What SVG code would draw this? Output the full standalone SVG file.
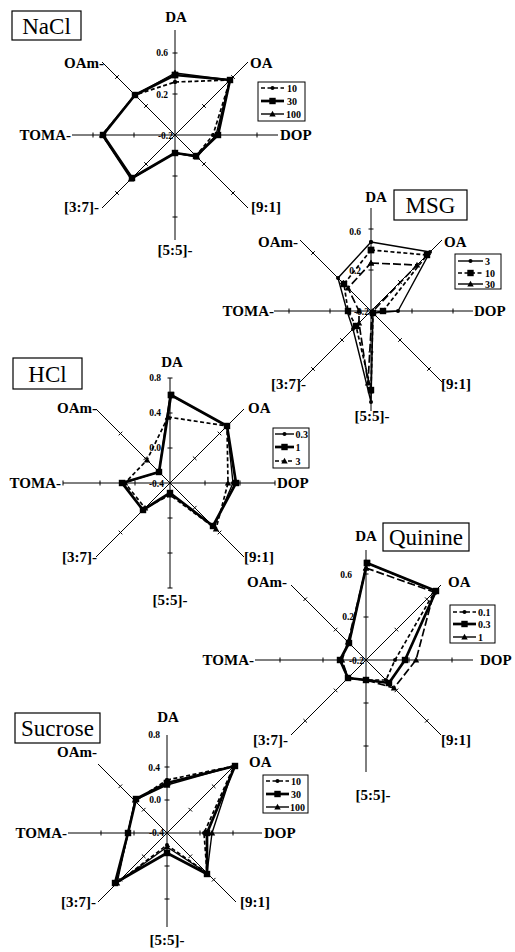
<svg xmlns="http://www.w3.org/2000/svg" xmlns:xlink="http://www.w3.org/1999/xlink" width="515" height="952" viewBox="0 0 515 952">
<style>
.ax{stroke:#000;stroke-width:1;fill:none}
.lb{font-family:"Liberation Serif",serif;font-weight:bold;font-size:15px;fill:#000}
.tv{font-family:"Liberation Serif",serif;font-weight:bold;font-size:9.5px;fill:#000}
.lg{font-family:"Liberation Serif",serif;font-weight:bold;font-size:10px;fill:#000}
.tt{font-family:"Liberation Serif",serif;font-size:23px;fill:#000}
.box{fill:#fff;stroke:#000;stroke-width:1.2}
.thin{fill:none;stroke:#000;stroke-width:1.4;stroke-linejoin:round}
.thick{fill:none;stroke:#000;stroke-width:2.7;stroke-linejoin:round}
.dash{fill:none;stroke:#000;stroke-width:1.7;stroke-dasharray:4 2.5}
.ldash{fill:none;stroke:#000;stroke-width:1.7;stroke-dasharray:8 3}
.mc{marker-start:url(#mc);marker-mid:url(#mc);marker-end:url(#mc)}
.ms{marker-start:url(#ms);marker-mid:url(#ms);marker-end:url(#ms)}
.mt{marker-start:url(#mt);marker-mid:url(#mt);marker-end:url(#mt)}
</style>
<defs>
<circle id="pc" r="2"/>
<rect id="ps" x="-3.2" y="-3.2" width="6.4" height="6.4"/>
<path id="pt" d="M0,-3.2 L3.2,2.4 L-3.2,2.4 Z"/>
<marker id="mc" viewBox="-4 -4 8 8" refX="0" refY="0" markerWidth="8" markerHeight="8" markerUnits="userSpaceOnUse"><use href="#pc"/></marker>
<marker id="ms" viewBox="-4 -4 8 8" refX="0" refY="0" markerWidth="8" markerHeight="8" markerUnits="userSpaceOnUse"><use href="#ps"/></marker>
<marker id="mt" viewBox="-4 -4 8 8" refX="0" refY="0" markerWidth="8" markerHeight="8" markerUnits="userSpaceOnUse"><use href="#pt"/></marker>
</defs>
<rect width="515" height="952" fill="#fff"/>

<!-- NaCl -->
<g id="chart-nacl">
 <g transform="translate(175,135)">
  <path class="ax" d="M0,-105V105M-103,0H103M-73,-73L73,73M73,-73L-73,73"/>
  <path class="ax" d="M-2.5,-41h5M-2.5,-82h5M-2.5,41h5M-2.5,82h5M-41,-2.5v5M-82,-2.5v5M41,-2.5v5M82,-2.5v5M27.2,-30.8l3.6,3.6M56.2,-59.8l3.6,3.6M-30.8,27.2l3.6,3.6M-59.8,56.2l3.6,3.6M27.2,30.8l3.6,-3.6M56.2,59.8l3.6,-3.6M-30.8,-27.2l3.6,-3.6M-59.8,-56.2l3.6,-3.6"/>
  <polygon class="dash mc" points="0,-53 55,-55 38,0 21,21 0,18 -43,43 -73,0 -40,-40"/>
  <polygon class="thick ms" points="0,-60 55,-55 43,0 21,21 0,18 -43,43 -72,0 -40,-40"/>
  <polygon class="thin mt" points="0,-62 55,-55 41,0 22,22 0,18 -44,44 -73,0 -40,-40"/>
 </g>
 <text class="lb" x="176" y="22" text-anchor="middle">DA</text>
 <text class="lb" x="250" y="68">OA</text>
 <text class="lb" x="280" y="140">DOP</text>
 <text class="lb" x="251" y="212">[9:1]</text>
 <text class="lb" x="175" y="255" text-anchor="middle">[5:5]-</text>
 <text class="lb" x="99" y="212" text-anchor="end">[3:7]-</text>
 <text class="lb" x="71" y="140" text-anchor="end">TOMA-</text>
 <text class="lb" x="104" y="68" text-anchor="end">OAm-</text>
 <text class="tv" x="168" y="56" text-anchor="end">0.6</text>
 <text class="tv" x="168" y="98" text-anchor="end">0.2</text>
 <text class="tv" x="173" y="139" text-anchor="end">-0.2</text>
 <g id="legend-nacl">
  <rect x="258" y="82" width="47" height="39" fill="#fff" stroke="#000" stroke-width="1"/>
  <path class="dash" d="M261,88H284"/><use href="#pc" x="272.5" y="88"/><text class="lg" x="287" y="91.5">10</text>
  <path class="thick" d="M261,101H284"/><use href="#ps" x="272.5" y="101"/><text class="lg" x="287" y="104.5">30</text>
  <path class="thin" d="M261,114H284"/><use href="#pt" x="272.5" y="114"/><text class="lg" x="286" y="117.5">100</text>
 </g>
 <g id="title-nacl"><rect class="box" x="12" y="11" width="69" height="29"/><text class="tt" x="46.5" y="34" text-anchor="middle">NaCl</text></g>
</g>

<!-- MSG -->
<g id="chart-msg">
 <g transform="translate(371,311)">
  <path class="ax" d="M0,-103V100M-97,0H102M-71,-71L71,71M71,-71L-71,71"/>
  <path class="ax" d="M-2.5,-41h5M-2.5,-82h5M-2.5,41h5M-2.5,82h5M-41,-2.5v5M-82,-2.5v5M41,-2.5v5M82,-2.5v5M27.2,-30.8l3.6,3.6M56.2,-59.8l3.6,3.6M-30.8,27.2l3.6,3.6M-59.8,56.2l3.6,3.6M27.2,30.8l3.6,-3.6M56.2,59.8l3.6,-3.6M-30.8,-27.2l3.6,-3.6M-59.8,-56.2l3.6,-3.6"/>
  <polygon class="thin mc" points="0,-69 59,-59 27,0 2,2 0,91 -18,18 -24,0 -33,-33"/>
  <polygon class="dash ms" points="0,-61 56,-56 12,0 2,2 0,79 -15,15 -23,0 -27,-27"/>
  <polygon class="ldash mt" points="0,-48 46,-46 2,0 1,1 -3,72 -12,12 -12,0 -23,-23"/>
 </g>
 <text class="lb" x="376" y="202" text-anchor="middle">DA</text>
 <text class="lb" x="444" y="247">OA</text>
 <text class="lb" x="474" y="316">DOP</text>
 <text class="lb" x="441" y="389">[9:1]</text>
 <text class="lb" x="372" y="421" text-anchor="middle">[5:5]-</text>
 <text class="lb" x="306" y="389" text-anchor="end">[3:7]-</text>
 <text class="lb" x="274" y="316" text-anchor="end">TOMA-</text>
 <text class="lb" x="298" y="247" text-anchor="end">OAm-</text>
 <text class="tv" x="361" y="235" text-anchor="end">0.6</text>
 <text class="tv" x="361" y="274" text-anchor="end">0.2</text>
 <text class="tv" x="369" y="315" text-anchor="end">-0.2</text>
 <g id="legend-msg">
  <rect x="455" y="254" width="46" height="35" fill="#fff" stroke="#000" stroke-width="1"/>
  <path class="thin" d="M458,261H483"/><use href="#pc" x="470.5" y="261"/><text class="lg" x="485" y="264.5">3</text>
  <path class="dash" d="M458,273H483"/><use href="#ps" x="470.5" y="273"/><text class="lg" x="485" y="276.5">10</text>
  <path class="thin" d="M458,284H483"/><use href="#pt" x="470.5" y="284"/><text class="lg" x="485" y="287.5">30</text>
 </g>
 <g id="title-msg"><rect class="box" x="394" y="190" width="73" height="30"/><text class="tt" x="430.5" y="213" text-anchor="middle">MSG</text></g>
</g>

<!-- HCl -->
<g id="chart-hcl">
 <g transform="translate(170,483)">
  <path class="ax" d="M0,-105V105M-107,0H105M-74,-74L74,74M74,-74L-74,74"/>
  <path class="ax" d="M-2.5,-35h5M-2.5,-70h5M-2.5,35h5M-2.5,70h5M-35,-2.5v5M-70,-2.5v5M35,-2.5v5M70,-2.5v5M22.9,-26.5l3.6,3.6M47.7,-51.3l3.6,3.6M-26.5,22.9l3.6,3.6M-51.3,47.7l3.6,3.6M22.9,26.5l3.6,-3.6M47.7,51.3l3.6,-3.6M-26.5,-22.9l3.6,-3.6M-51.3,-47.7l3.6,-3.6M-2.5,-105h5M-2.5,105h5M-107,-2.5v5M105,-2.5v5"/>
  <polygon class="thin mc" points="0,-88 57,-57 63,0 44,44 0,10 -27,27 -47,0 -11,-11"/>
  <polygon class="thick ms" points="1,-88 57,-57 66,0 43,43 0,10 -27,27 -48,0 -11,-11"/>
  <polygon class="dash mt" points="-2,-66 57,-57 58,0 46,46 0,12 -25,25 -45,0 -23,-23"/>
 </g>
 <text class="lb" x="172" y="367" text-anchor="middle">DA</text>
 <text class="lb" x="248" y="413">OA</text>
 <text class="lb" x="277" y="488">DOP</text>
 <text class="lb" x="244" y="562">[9:1]</text>
 <text class="lb" x="170" y="605" text-anchor="middle">[5:5]-</text>
 <text class="lb" x="97" y="562" text-anchor="end">[3:7]-</text>
 <text class="lb" x="61" y="488" text-anchor="end">TOMA-</text>
 <text class="lb" x="97" y="413" text-anchor="end">OAm-</text>
 <text class="tv" x="161" y="381" text-anchor="end">0.8</text>
 <text class="tv" x="161" y="416" text-anchor="end">0.4</text>
 <text class="tv" x="161" y="451" text-anchor="end">0.0</text>
 <text class="tv" x="164" y="487" text-anchor="end">-0.4</text>
 <g id="legend-hcl">
  <rect x="273" y="428" width="36" height="40" fill="#fff" stroke="#000" stroke-width="1"/>
  <path class="thin" d="M275,434H294"/><use href="#pc" x="284.5" y="434"/><text class="lg" x="295.5" y="437.5">0.3</text>
  <path class="thick" d="M275,447H294"/><use href="#ps" x="284.5" y="447"/><text class="lg" x="295.5" y="450.5">1</text>
  <path class="dash" d="M275,461H294"/><use href="#pt" x="284.5" y="461"/><text class="lg" x="295.5" y="464.5">3</text>
 </g>
 <g id="title-hcl"><rect class="box" x="13" y="358" width="69" height="31"/><text class="tt" x="47.5" y="382" text-anchor="middle">HCl</text></g>
</g>

<!-- Quinine -->
<g id="chart-quinine">
 <g transform="translate(366,660)">
  <path class="ax" d="M0,-110V112M-111,0H107M-75,-75L75,75M75,-75L-75,75"/>
  <path class="ax" d="M-2.5,-43h5M-2.5,-86h5M-2.5,43h5M-2.5,86h5M-43,-2.5v5M-86,-2.5v5M43,-2.5v5M86,-2.5v5M28.6,-32.2l3.6,3.6M59,-62.6l3.6,3.6M-32.2,28.6l3.6,3.6M-62.6,59l3.6,3.6M28.6,32.2l3.6,-3.6M59,62.6l3.6,-3.6M-32.2,-28.6l3.6,-3.6M-62.6,-59l3.6,-3.6"/>
  <polygon class="dash mc" points="1,-97 69,-69 29,0 20,20 0,20 -18,18 -26,0 -17,-17"/>
  <polygon class="thick ms" points="1,-97 70,-69 39,0 23,23 0,20 -18,18 -26,0 -17,-17"/>
  <polygon class="ldash mt" points="0,-92 68,-68 50,0 28,28 0,20 -18,18 -24,0 -18,-18"/>
 </g>
 <text class="lb" x="366" y="541" text-anchor="middle">DA</text>
 <text class="lb" x="448" y="587">OA</text>
 <text class="lb" x="480" y="665">DOP</text>
 <text class="lb" x="441" y="745">[9:1]</text>
 <text class="lb" x="373" y="800" text-anchor="middle">[5:5]-</text>
 <text class="lb" x="288" y="745" text-anchor="end">[3:7]-</text>
 <text class="lb" x="254" y="665" text-anchor="end">TOMA-</text>
 <text class="lb" x="287" y="587" text-anchor="end">OAm-</text>
 <text class="tv" x="352" y="578" text-anchor="end">0.6</text>
 <text class="tv" x="354" y="620" text-anchor="end">0.2</text>
 <text class="tv" x="364" y="664" text-anchor="end">-0.2</text>
 <g id="legend-quinine">
  <rect x="450" y="605" width="45" height="38" fill="#fff" stroke="#000" stroke-width="1"/>
  <path class="dash" d="M453,612H476"/><use href="#pc" x="464.5" y="612"/><text class="lg" x="478" y="615.5">0.1</text>
  <path class="thick" d="M453,624H476"/><use href="#ps" x="464.5" y="624"/><text class="lg" x="478" y="627.5">0.3</text>
  <path class="thin" d="M453,637H476"/><use href="#pt" x="464.5" y="637"/><text class="lg" x="478" y="640.5">1</text>
 </g>
 <g id="title-quinine"><rect class="box" x="383" y="523" width="86" height="28"/><text class="tt" x="426" y="545" text-anchor="middle">Quinine</text></g>
</g>

<!-- Sucrose -->
<g id="chart-sucrose">
 <g transform="translate(167,833)">
  <path class="ax" d="M0,-98V94M-99,0H95M-69,-69L69,69M69,-69L-69,69"/>
  <path class="ax" d="M-2.5,-33h5M-2.5,-66h5M-2.5,33h5M-2.5,66h5M-33,-2.5v5M-66,-2.5v5M33,-2.5v5M66,-2.5v5M21.5,-25.1l3.6,3.6M44.9,-48.5l3.6,3.6M-25.1,21.5l3.6,3.6M-48.5,44.9l3.6,3.6M21.5,25.1l3.6,-3.6M44.9,48.5l3.6,-3.6M-25.1,-21.5l3.6,-3.6M-48.5,-44.9l3.6,-3.6"/>
  <polygon class="dash mc" points="0,-53 67,-67 37,0 40,40 0,12 -51,51 -39,0 -32,-32"/>
  <polygon class="thick ms" points="0,-50 68,-67 40,0 40,41 0,20 -52,50 -39,0 -31,-34"/>
  <polygon class="thin mt" points="0,-48 67,-67 45,0 40,40 0,14 -50,50 -39,0 -32,-33"/>
 </g>
 <text class="lb" x="168" y="722" text-anchor="middle">DA</text>
 <text class="lb" x="249" y="767">OA</text>
 <text class="lb" x="264" y="838">DOP</text>
 <text class="lb" x="240" y="907">[9:1]</text>
 <text class="lb" x="167" y="945" text-anchor="middle">[5:5]-</text>
 <text class="lb" x="96" y="907" text-anchor="end">[3:7]-</text>
 <text class="lb" x="67" y="838" text-anchor="end">TOMA-</text>
 <text class="lb" x="97" y="757" text-anchor="end">OAm-</text>
 <text class="tv" x="160" y="738" text-anchor="end">0.8</text>
 <text class="tv" x="160" y="771" text-anchor="end">0.4</text>
 <text class="tv" x="161" y="803" text-anchor="end">0.0</text>
 <text class="tv" x="164" y="836" text-anchor="end">-0.4</text>
 <g id="legend-sucrose">
  <rect x="263" y="775" width="45" height="38" fill="#fff" stroke="#000" stroke-width="1"/>
  <path class="dash" d="M266,781H289"/><use href="#pc" x="277.5" y="781"/><text class="lg" x="291" y="784.5">10</text>
  <path class="thick" d="M266,794H289"/><use href="#ps" x="277.5" y="794"/><text class="lg" x="291" y="797.5">30</text>
  <path class="thin" d="M266,807H289"/><use href="#pt" x="277.5" y="807"/><text class="lg" x="290" y="810.5">100</text>
 </g>
 <g id="title-sucrose"><rect class="box" x="15" y="713" width="85" height="30"/><text class="tt" x="57.5" y="736" text-anchor="middle">Sucrose</text></g>
</g>
</svg>
